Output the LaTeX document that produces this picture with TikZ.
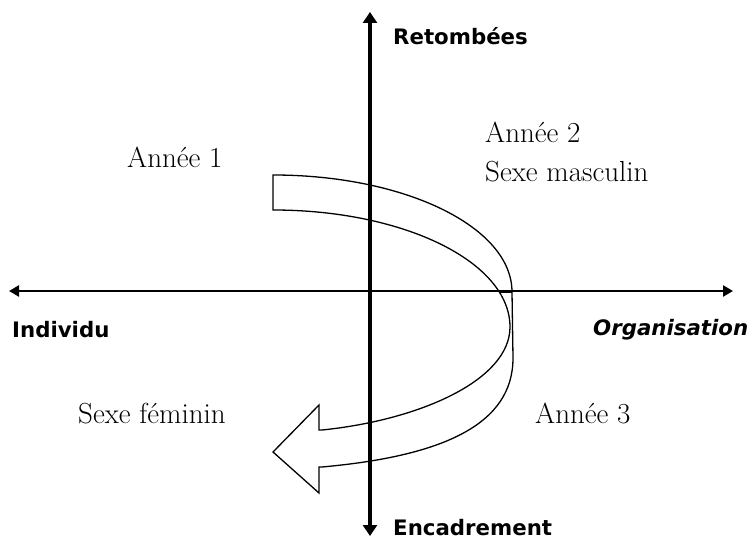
\documentclass[tikz,border=0pt]{standalone}
\usepackage{fontspec}
\newfontfamily\axisfont{DejaVu Sans}
\usetikzlibrary{arrows.meta}
\tikzset{
  serif/.style={font=\fontsize{29}{34}\selectfont, inner sep=0pt, anchor=base west},
  axislabel/.style={font=\axisfont\bfseries\fontsize{21.3}{24}\selectfont, inner sep=0pt, anchor=base west},
  ribbon/.style={draw=black, line width=1.3pt, fill=white, line join=miter},
  vaxis/.style={line width=4.5pt, {Triangle[length=11pt,width=14pt]}-{Triangle[length=11pt,width=14pt]}},
  haxis/.style={line width=2.8pt, {Triangle[length=10pt,width=11pt]}-{Triangle[length=10pt,width=11pt]}}
}
\begin{document}
\begin{tikzpicture}[x=1pt,y=-1pt]
\useasboundingbox (0,0) rectangle (752,540);
% curved ribbon arrow
\draw[ribbon] (273,175) .. controls (405,175) and (512,227) .. (512,292)
  -- (513,358) .. controls (513,424) and (444,456) .. (322,467)
  -- (319,467) -- (319,493) -- (273,452) -- (319,405) -- (319,430) -- (322,430)
  .. controls (420,420) and (510,380) .. (510,327)
  .. controls (510,262) and (404,210) .. (273,210) -- cycle;
\draw[line width=1.3pt] (499,292) -- (512,292);
% axes
\coordinate (top) at (370,12);
\coordinate (bottom) at (370,536);
\coordinate (left) at (9,291);
\coordinate (right) at (733,291);
\draw[haxis] (left) -- (right);
\draw[vaxis] (bottom) -- (top);
% labels
\node[axislabel] (retombees) at (393,45) {Retombées};
\node[axislabel] (encadrement) at (393,535) {Encadrement};
\node[axislabel] (individu) at (12,337) {Individu};
\node[axislabel, font=\axisfont\bfseries\itshape\fontsize{21.3}{24}\selectfont] (organisation) at (593,335) {Organisation};
\node[serif] (annee1) at (127,168) {Année 1};
\node[serif] (annee2) at (485,143) {Année 2};
\node[serif] (masc) at (485,182) {Sexe masculin};
\node[serif] (fem) at (78,423) {Sexe féminin};
\node[serif] (annee3) at (535,423) {Année 3};
\end{tikzpicture}
\end{document}
